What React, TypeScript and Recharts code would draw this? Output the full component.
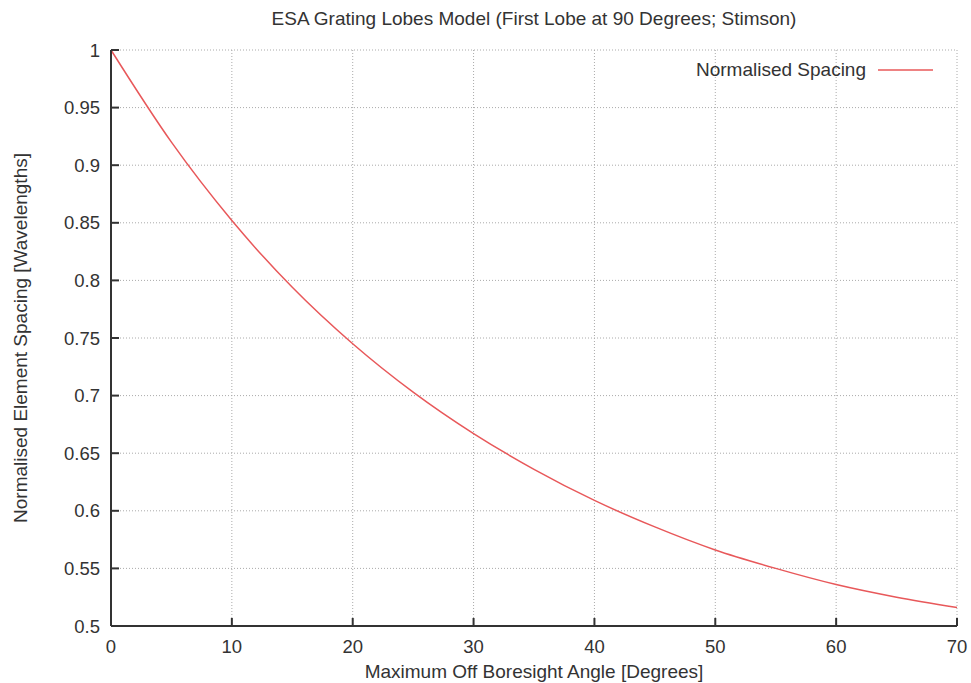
import React from "react";
import { LineChart, Line, XAxis, YAxis, CartesianGrid } from "recharts";

const angles = [0, 5, 10, 15, 20, 25, 30, 35, 40, 45, 50, 55, 60, 65, 70];
const spacing = [1.0, 0.92, 0.852, 0.794, 0.745, 0.703, 0.667, 0.636, 0.609, 0.586, 0.566, 0.55, 0.536, 0.525, 0.516];
const xTicks = [0, 10, 20, 30, 40, 50, 60, 70];
const yTicks = [0.5, 0.55, 0.6, 0.65, 0.7, 0.75, 0.8, 0.85, 0.9, 0.95, 1];
const seriesName = "Normalised Spacing";
const title = "ESA Grating Lobes Model (First Lobe at 90 Degrees; Stimson)";
const xLabel = "Maximum Off Boresight Angle [Degrees]";
const yLabel = "Normalised Element Spacing [Wavelengths]";

const data = angles.map((a, i) => ({ angle: a, value: spacing[i] }));

const FONT = "'Liberation Sans', Arial, sans-serif";
const AXIS = "#333";
const TEXT = "#333";
const LINE = "#e8585a";
const TICK_LEN = 8;
const X_MARGIN = 14;
const Y_MARGIN = 11;

const fmtY = (v: number) => String(Number(v.toFixed(2)));
const blank = () => "";

const axisLineStyle = { stroke: AXIS, strokeWidth: 2 };

const BottomTick = (props: any) => {
  const { x, y, payload } = props;
  const axisY = y - X_MARGIN;
  return (
    <g>
      <line x1={x} x2={x} y1={axisY} y2={axisY - TICK_LEN} stroke={AXIS} strokeWidth={2} />
      <text x={x} y={y} dy="0.71em" textAnchor="middle" fontFamily={FONT} fontSize={18.5} fill={TEXT}>
        {payload.value}
      </text>
    </g>
  );
};

const TopTick = (props: any) => {
  const { x, y } = props;
  return <line x1={x} x2={x} y1={y} y2={y + TICK_LEN} stroke={AXIS} strokeWidth={2} />;
};

const LeftTick = (props: any) => {
  const { x, y, payload } = props;
  const axisX = x + Y_MARGIN;
  return (
    <g>
      <line x1={axisX} x2={axisX + TICK_LEN} y1={y} y2={y} stroke={AXIS} strokeWidth={2} />
      <text x={x} y={y} dy="0.355em" textAnchor="end" fontFamily={FONT} fontSize={18.5} fill={TEXT}>
        {fmtY(payload.value)}
      </text>
    </g>
  );
};

const RightTick = (props: any) => {
  const { x, y } = props;
  return <line x1={x} x2={x - TICK_LEN} y1={y} y2={y} stroke={AXIS} strokeWidth={2} />;
};

export default function App() {
  return (
    <div style={{ position: "absolute", left: 0, top: 0, width: 971, height: 683, background: "#fff" }}>
      <LineChart width={971} height={683} data={data} margin={{ top: 50, right: 14, bottom: 0, left: 0 }}>
        <CartesianGrid xAxisId="bottom" yAxisId="left" stroke="#aaa" strokeDasharray="1 2" />
        <XAxis
          dataKey="angle"
          type="number"
          domain={[0, 70]}
          ticks={xTicks}
          xAxisId="bottom"
          height={57}
          tickSize={0}
          tickMargin={X_MARGIN}
          axisLine={axisLineStyle}
          tickLine={false}
          tick={<BottomTick />}
        />
        <YAxis
          yAxisId="left"
          type="number"
          domain={[0.5, 1]}
          ticks={yTicks}
          width={111}
          tickSize={0}
          tickMargin={Y_MARGIN}
          axisLine={axisLineStyle}
          tickLine={false}
          tick={<LeftTick />}
        />
        <XAxis
          dataKey="angle"
          type="number"
          domain={[0, 70]}
          ticks={xTicks}
          xAxisId="top"
          orientation="top"
          height={0}
          tickSize={0}
          tickMargin={0}
          tickFormatter={blank}
          axisLine={axisLineStyle}
          tickLine={false}
          tick={<TopTick />}
        />
        <YAxis
          yAxisId="right"
          orientation="right"
          type="number"
          domain={[0.5, 1]}
          ticks={yTicks}
          width={0}
          tickSize={0}
          tickMargin={0}
          tickFormatter={blank}
          axisLine={axisLineStyle}
          tickLine={false}
          tick={<RightTick />}
        />
        <Line
          xAxisId="bottom"
          yAxisId="left"
          type="monotone"
          dataKey="value"
          name={seriesName}
          stroke={LINE}
          strokeWidth={1.5}
          dot={false}
          isAnimationActive={false}
        />
        <text x={866} y={76} textAnchor="end" fontFamily={FONT} fontSize={19} fill={TEXT}>
          {seriesName}
        </text>
        <line x1={878} x2={933} y1={70} y2={70} stroke={LINE} strokeWidth={1.5} />
        <text x={534} y={25} textAnchor="middle" fontFamily={FONT} fontSize={19} fill={TEXT}>
          {title}
        </text>
        <text x={534} y={678} textAnchor="middle" fontFamily={FONT} fontSize={19} fill={TEXT}>
          {xLabel}
        </text>
        <text
          x={27}
          y={338}
          textAnchor="middle"
          fontFamily={FONT}
          fontSize={19}
          fill={TEXT}
          transform="rotate(-90, 27, 338)"
        >
          {yLabel}
        </text>
      </LineChart>
    </div>
  );
}
